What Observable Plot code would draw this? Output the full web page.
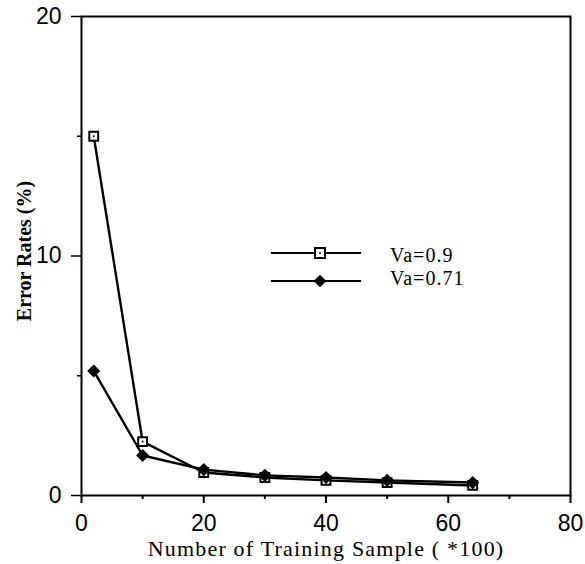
<!DOCTYPE html>
<html>
<head>
<meta charset="utf-8">
<script src="https://cdn.jsdelivr.net/npm/d3@7"></script>
<script src="https://cdn.jsdelivr.net/npm/@observablehq/plot@0.6"></script>
<style>
  html, body { margin: 0; padding: 0; background: #fff; }
  #chart { position: relative; width: 585px; height: 564px; }
</style>
</head>
<body>
<div id="chart"></div>
<script>
// ---- data ----
const samples = [2, 10, 20, 30, 40, 50, 64];          // Number of training samples (*100)
const errVa09 = [15.0, 2.25, 0.96, 0.75, 0.63, 0.54, 0.42];   // Va=0.9  (open squares)
const errVa071 = [5.2, 1.67, 1.08, 0.84, 0.75, 0.63, 0.54];   // Va=0.71 (filled diamonds)
const seriesNames = ["Va=0.9", "Va=0.71"];
const xMajorTicks = [0, 20, 40, 60, 80];
const xMinorTicks = [10, 30, 50, 70];
const yMajorTicks = [0, 10, 20];
const yMinorTicks = [5, 15];
const xLabel = "Number of Training Sample ( *100)";
const yLabel = "Error Rates (%)";

const d09 = samples.map((x, i) => ({x, y: errVa09[i]}));
const d071 = samples.map((x, i) => ({x, y: errVa071[i]}));

const sans = "'Liberation Sans', Arial, sans-serif";
const serif = "'Liberation Serif', 'Times New Roman', serif";

const plot = Plot.plot({
  width: 585,
  height: 564,
  marginLeft: 81,
  marginRight: 15,
  marginTop: 16,
  marginBottom: 69,
  style: {fontFamily: sans, background: "#fff", color: "#000", overflow: "visible"},
  x: {domain: [0, 80]},
  y: {domain: [0, 20]},
  marks: [
    Plot.frame({stroke: "#000", strokeWidth: 2}),
    Plot.axisX({ticks: xMajorTicks, tickSize: 8, tickPadding: 11, fontSize: 23, label: null, strokeWidth: 2}),
    Plot.axisX({ticks: xMinorTicks, tickSize: 4, text: null, label: null, strokeWidth: 2}),
    Plot.axisY({ticks: yMajorTicks, tickSize: 10, tickPadding: 10, fontSize: 23, label: null, strokeWidth: 1.5}),
    Plot.axisY({ticks: yMinorTicks, tickSize: 4, text: null, label: null, strokeWidth: 1.5}),
    Plot.text([xLabel], {text: d => d, frameAnchor: "bottom", textAnchor: "middle", lineAnchor: "bottom", dy: 60,
      fontSize: 22, fontFamily: serif, fill: "#000", className: "xlab"}),
    Plot.text([yLabel], {text: d => d, frameAnchor: "left", textAnchor: "middle", lineAnchor: "bottom", rotate: -90, dx: -51, dy: -5,
      fontSize: 20, fontWeight: "bold", fontFamily: serif, fill: "#000"}),
    Plot.line(d09, {x: "x", y: "y", stroke: "#000", strokeWidth: 2.4}),
    Plot.dot(d09, {x: "x", y: "y", symbol: "square", r: 5, fill: "#fff", stroke: "#000", strokeWidth: 2}),
    Plot.dot(d09, {x: "x", y: "y", r: 1, fill: "#000"}),
    Plot.line(d071, {x: "x", y: "y", stroke: "#000", strokeWidth: 2.4}),
    Plot.dot(d071, {x: "x", y: "y", symbol: "diamond2", r: 5, fill: "#000", stroke: "#000", strokeWidth: 1.5, strokeLinejoin: "round"})
  ]
});
document.getElementById("chart").appendChild(plot);

const svg = d3.select(plot);
// widen the x-axis title's letter spacing like the scanned original
svg.selectAll(".xlab text, text.xlab, .xlab").attr("letter-spacing", 1.2);

// ---- legend (inside the plot area) ----
const lg = svg.append("g").attr("transform", "translate(271,253)");
const rowGap = 28;
seriesNames.forEach((name, i) => {
  const g = lg.append("g").attr("transform", `translate(0,${i * rowGap})`);
  g.append("line").attr("x1", 0).attr("x2", 90).attr("y1", 0).attr("y2", 0)
    .attr("stroke", "#000").attr("stroke-width", 2);
  if (i === 0) {
    g.append("rect").attr("x", 44).attr("y", -5).attr("width", 10).attr("height", 10)
      .attr("fill", "#fff").attr("stroke", "#000").attr("stroke-width", 2);
    g.append("circle").attr("cx", 49).attr("cy", 0).attr("r", 1).attr("fill", "#000");
  } else {
    g.append("path").attr("transform", "translate(49,0)")
      .attr("d", d3.symbol(d3.symbolDiamond2, 70)()).attr("fill", "#000")
      .attr("stroke", "#000").attr("stroke-width", 1.5).attr("stroke-linejoin", "round");
  }
  g.append("text").attr("x", 119).attr("y", i === 0 ? 9 : 4)
    .attr("text-anchor", "start")
    .attr("font-family", serif).attr("font-size", 20).attr("letter-spacing", 1)
    .attr("fill", "#000").text(name);
});
</script>
</body>
</html>
